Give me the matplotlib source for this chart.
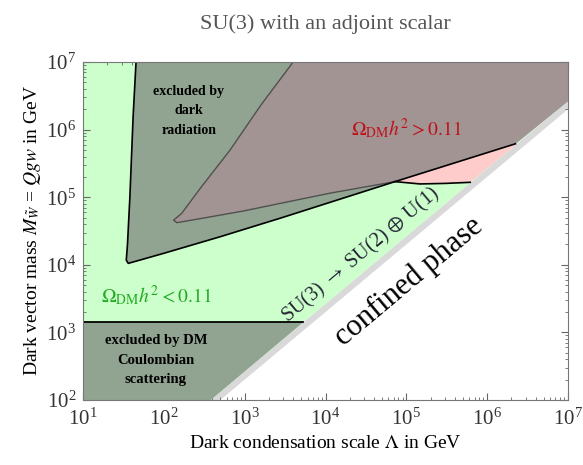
import numpy as np
import matplotlib
matplotlib.use("Agg")
import matplotlib.pyplot as plt

plt.rcParams['font.family'] = ['Liberation Serif', 'DejaVu Serif']
plt.rcParams['mathtext.fontset'] = 'stix'

# boundaries (Lambda in GeV, M in GeV)
# confinement line (inner edge of the grey band) and outer edge
conf_lam = [380.0, 1.0e7]
conf_M = [100.0, 2.63e6]
white_lam = [500.0, 1.0e7]
white_M = [100.0, 2.0e6]

# dark radiation exclusion: left edge down to tip, then lower edge
dr_lam = [45.3, 41.7, 38.0, 35.5, 34.3, 36.3, 50.1, 100.0, 497.0, 2740.0, 7.24e4, 2.24e6]
dr_M = [1.0e7, 1.58e6, 1.0e5, 2.0e4, 1.17e4, 1.05e4, 1.17e4, 1.48e4, 2.6e4, 4.88e4, 1.70e5, 6.17e5]

# Omega h^2 > 0.11 (over-abundant) region boundary
om_lam = [3980.0, 1585.0, 661.0, 282.0, 166.0, 132.0, 145.0, 251.0, 1000.0, 2750.0, 1.15e4, 7.24e4, 2.24e6]
om_M = [1.0e7, 2.3e6, 5.0e5, 1.35e5, 5.75e4, 4.57e4, 4.2e4, 4.7e4, 6.3e4, 8.1e4, 1.15e5, 1.70e5, 6.17e5]

# pink strip lower edge
pink_lam = [7.24e4, 1.48e5, 3.02e5, 6.17e5]
pink_M = [1.70e5, 1.57e5, 1.60e5, 1.66e5]

# DM Coulomb scattering bound
coul_M = 1.41e3
coul_lam_end = 5.3e3

green = '#ccffcc'
drcol = '#91a391'
browncol = '#a39494'
pinkcol = '#ffcccc'
bandcol = '#d9d9d9'

fig = plt.figure(figsize=(5.83, 4.65), dpi=100)
ax = fig.add_axes([83/583, 1-400/465, 485/583, 338/465])
ax.set_xscale('log')
ax.set_yscale('log')
ax.set_xlim(10, 1e7)
ax.set_ylim(100, 1e7)

# broken phase background
ax.fill([10, conf_lam[0], conf_lam[1], 1e7, 10], [100, conf_M[0], conf_M[1], 1e7, 1e7],
        color=green, lw=0, zorder=1)
# grey band along the confinement line
ax.fill([conf_lam[0], conf_lam[1], white_lam[1], white_lam[0]],
        [conf_M[0], conf_M[1], white_M[1], white_M[0]], color=bandcol, lw=0, zorder=1)

# dark radiation region
px = dr_lam + [1e7, 1e7]
py = dr_M + [conf_M[1], 1e7]
ax.fill(px, py, color=drcol, lw=0, zorder=2)
ax.plot(dr_lam, dr_M, color='black', lw=1.2, zorder=5)

# over-abundant region overlapping dark radiation
px = om_lam + [1e7, 1e7]
py = om_M + [conf_M[1], 1e7]
ax.fill(px, py, color=browncol, lw=0, zorder=3)
ax.plot(om_lam[:-1], om_M[:-1], color='#505050', lw=1.0, zorder=4)

# pink strip
px = [om_lam[-2], om_lam[-1], 2.24e6 * 0.999] + pink_lam[::-1]
py = [om_M[-2], om_M[-1], 2.24e6 * 10**-0.58] + pink_M[::-1]
ax.fill(px, py, color=pinkcol, lw=0, zorder=3)
ax.plot(pink_lam, pink_M, color='black', lw=1.2, zorder=5)

# Coulomb scattering region
ax.fill([10, conf_lam[0], coul_lam_end, 10], [100, 100, coul_M, coul_M], color=drcol, lw=0, zorder=2)
ax.plot([10, coul_lam_end], [coul_M, coul_M], color='black', lw=1.3, zorder=5)

# labels
ax.text(204, 1.9e6, 'excluded by\ndark\nradiation', ha='center', va='center',
        fontsize=10, fontweight='bold', linespacing=1.65, zorder=6)
ax.text(80, 3.9e2, 'excluded by DM\nCoulombian\nscattering', ha='center', va='center',
        fontsize=10.5, fontweight='bold', linespacing=1.65, zorder=6)
ax.text(1.0e5, 1.05e6, r'$\Omega_{\rm DM}h^2 > 0.11$', color='#c0101a', fontsize=14,
        ha='center', va='center', zorder=6)
ax.text(80, 3.5e3, r'$\Omega_{\rm DM}h^2 < 0.11$', color='#22aa22', fontsize=14,
        ha='center', va='center', zorder=6)
ax.text(2.7e4, 1.4e4, r'SU(3) $\rightarrow$ SU(2) $\oplus$ U(1)', color='#222233', fontsize=14.5,
        rotation=40, ha='center', va='center', rotation_mode='anchor', zorder=6)
ax.text(1.07e5, 5.6e3, 'confined phase', color='black', fontsize=22,
        rotation=40, ha='center', va='center', rotation_mode='anchor', zorder=6)

ax.set_title('SU(3) with an adjoint scalar', fontsize=16, color='#555555', pad=24)
ax.set_xlabel(r'Dark condensation scale $\Lambda$ in GeV', fontsize=14, labelpad=4)
ax.set_ylabel(r'Dark vector mass $M_{\tilde{W}}$ = $Qgw$ in GeV', fontsize=14, labelpad=2)

ax.set_xticks([10**k for k in range(1, 8)])
ax.set_yticks([10**k for k in range(2, 8)])
ax.tick_params(which='both', direction='in', top=True, right=True, colors='#666666',
               labelcolor='#333333', labelsize=15)
ax.tick_params(axis='x', which='major', pad=6)
ax.tick_params(axis='y', which='major', pad=5)
ax.tick_params(which='major', length=5, width=0.8)
ax.tick_params(which='minor', length=2.5, width=0.6)
for s in ax.spines.values():
    s.set_color('#777777')
    s.set_zorder(7)

fig.savefig('out.png', dpi=100)
plt.close(fig)
